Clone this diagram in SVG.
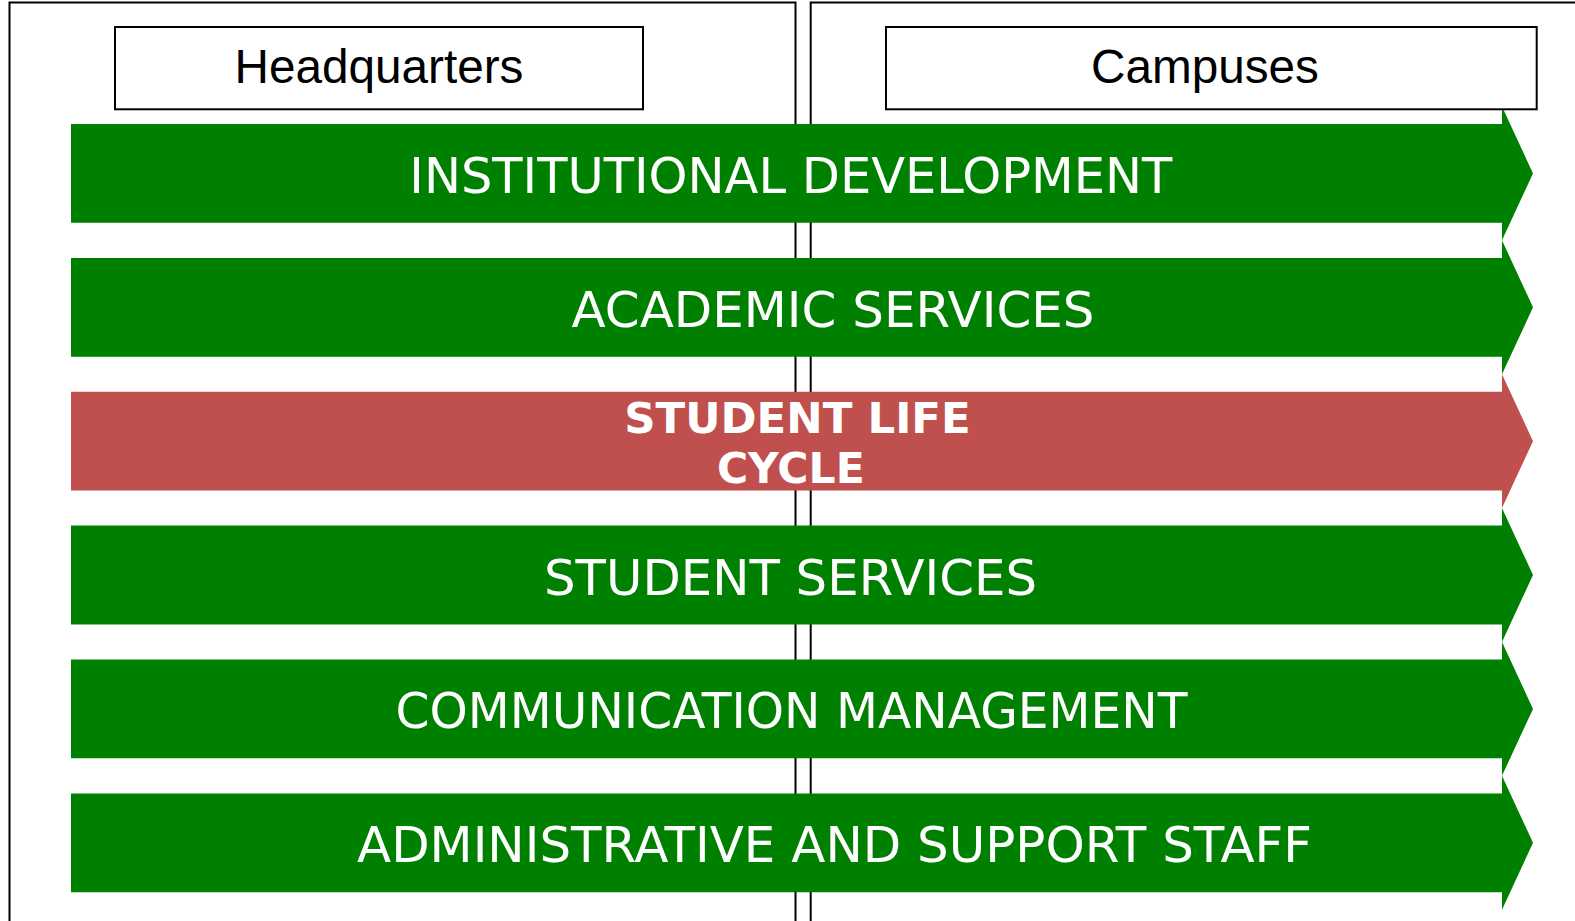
<svg xmlns="http://www.w3.org/2000/svg" width="1575" height="921" viewBox="0 0 1575 921">
<style>
.panel{fill:#ffffff;stroke:#000000;stroke-width:2}
.hdr{fill:#ffffff;stroke:#000000;stroke-width:2}
.hdrtxt{font-family:"Liberation Sans",Arial,sans-serif;font-size:47.7px;fill:#000000;text-anchor:middle}
.green{fill:#008000}
.red{fill:#C0504D}
.bt{font-family:"DejaVu Sans",Verdana,sans-serif;font-size:49px;fill:#ffffff;text-anchor:middle}
.bb{font-family:"DejaVu Sans",Verdana,sans-serif;font-size:42.5px;font-weight:bold;fill:#ffffff;text-anchor:middle}
</style>
<rect width="1575" height="921" fill="#ffffff"/>
<g id="panels">
  <rect id="panel-hq" class="panel" x="9.5" y="2.5" width="786" height="940"/>
  <rect id="panel-campus" class="panel" x="810.7" y="2.5" width="790" height="940"/>
</g>
<g id="band-institutional">
  <path class="green" d="M71 124 H1502 V106.5 L1533 173.4 L1502 240.3 V222.8 H71 Z"/>
  <text class="bt" x="790.8" y="192.8" textLength="763" lengthAdjust="spacingAndGlyphs">INSTITUTIONAL DEVELOPMENT</text>
</g>
<g id="band-academic">
  <path class="green" d="M71 257.9 H1502 V240.3 L1533 307.3 L1502 374.2 V356.7 H71 Z"/>
  <text class="bt" x="833" y="326.8" textLength="523" lengthAdjust="spacingAndGlyphs">ACADEMIC SERVICES</text>
</g>
<g id="band-studentlife">
  <path class="red" d="M71 391.8 H1502 V374.2 L1533 441.2 L1502 508.1 V490.6 H71 Z"/>
  <text class="bb" x="797.5" y="433.3" textLength="346.5" lengthAdjust="spacingAndGlyphs">STUDENT LIFE</text>
  <text class="bb" x="790.8" y="482.7">CYCLE</text>
</g>
<g id="band-studentservices">
  <path class="green" d="M71 525.6 H1502 V508.1 L1533 575 L1502 641.9 V624.4 H71 Z"/>
  <text class="bt" x="790.5" y="594.5" textLength="493" lengthAdjust="spacingAndGlyphs">STUDENT SERVICES</text>
</g>
<g id="band-communication">
  <path class="green" d="M71 659.5 H1502 V641.9 L1533 708.9 L1502 775.8 V758.3 H71 Z"/>
  <text class="bt" x="791.5" y="728.4" textLength="792" lengthAdjust="spacingAndGlyphs">COMMUNICATION MANAGEMENT</text>
</g>
<g id="band-administrative">
  <path class="green" d="M71 793.4 H1502 V775.8 L1533 842.8 L1502 909.7 V892.2 H71 Z"/>
  <text class="bt" x="834.5" y="862" textLength="955" lengthAdjust="spacingAndGlyphs">ADMINISTRATIVE AND SUPPORT STAFF</text>
</g>
<g id="hdr-hq">
  <rect class="hdr" x="115" y="27" width="528" height="82.3"/>
  <text class="hdrtxt" x="379" y="83">Headquarters</text>
</g>
<g id="hdr-campus">
  <rect class="hdr" x="886" y="27" width="650.7" height="82.3"/>
  <text class="hdrtxt" x="1205" y="83">Campuses</text>
</g>
<g id="connectors"></g>
</svg>
